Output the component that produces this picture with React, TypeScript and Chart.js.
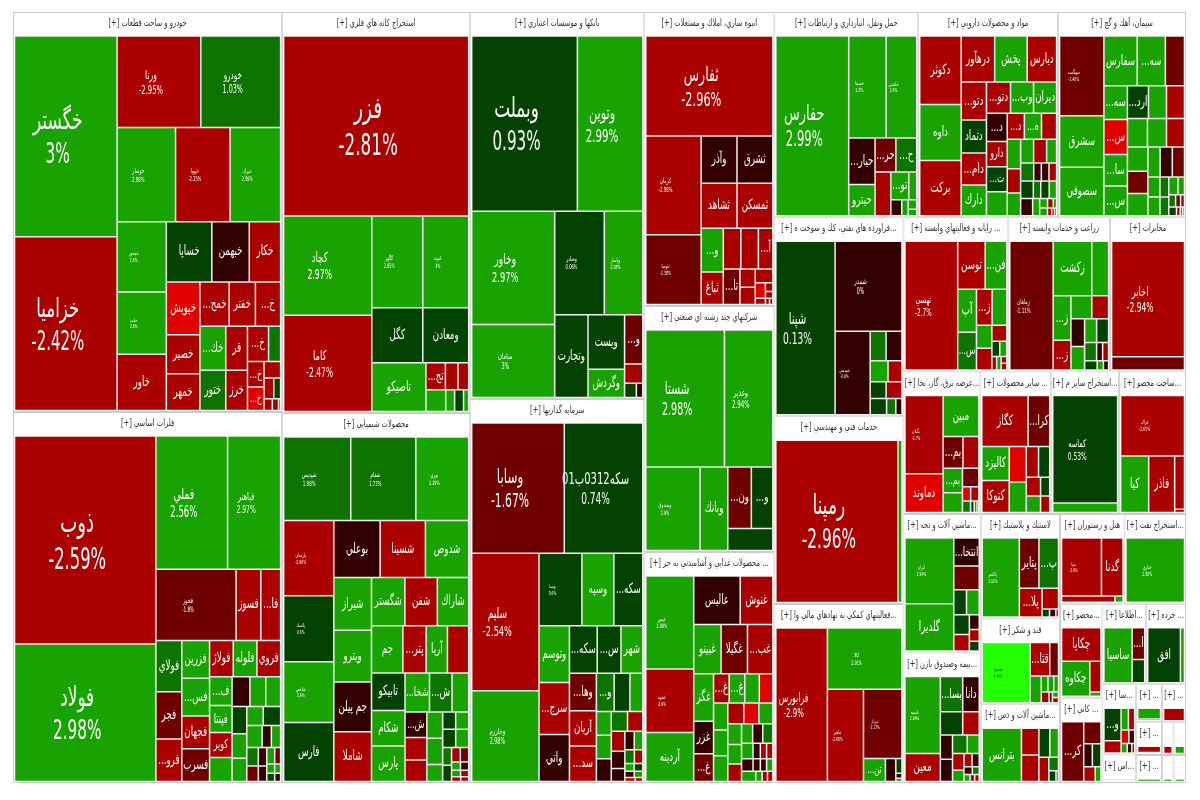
import React, { useEffect, useRef } from "react";
import { Chart, registerables, DatasetController } from "chart.js";

// ---- data: tile sizes (traded value), percent change, and strip plans
// plan: +n = n tiles side by side in a top strip, -n = n tiles stacked in a left strip
const sectorTitles = [
  "خودرو و ساخت قطعات [+]", "فلزات اساسي [+]", "استخراج كانه هاي فلزي [+]", "محصولات شيميايي [+]",
  "بانكها و موسسات اعتباري [+]", "سرمايه گذاريها [+]", "انبوه سازي، املاك و مستغلات [+]",
  "شركتهاي چند رشته اي صنعتي [+]", "... محصولات غذايي و آشاميدني به جز [+]",
  "حمل ونقل، انبارداري و ارتباطات [+]", "مواد و محصولات دارويي [+]", "سيمان، آهك و گچ [+]",
  "...فراورده هاي نفتي، كك و سوخت ه [+]", "خدمات فني و مهندسي [+]", "...فعاليتهاي كمكي به نهادهاي مالي وا [+]",
  "... رايانه و فعاليتهاي وابسته [+]", "زراعت و خدمات وابسته [+]", "مخابرات [+]",
  "...عرضه برق، گاز، بخا [+]", "... ساير محصولات [+]", "...استخراج ساير م [+]", "...ساخت محصو [+]",
  "...ماشين آلات و تجه [+]", "...بيمه وصندوق بازن [+]", "لاستيك و پلاستيك [+]", "قند و شكر [+]", "...ماشين آلات و دس [+]",
  "هتل و رستوران [+]", "...استخراج نفت [+]", "...محصو [+]", "... كاني [+]", "...اطلاعا [+]", "... خرده [+]",
  "...سا [+]", "...اس [+]", "... [+]", "... [+]", "... [+]", "... [+]", "", "", "", "",
];
const sectorValues = [
  107600, 99799, 75388, 69560, 67338, 66816, 38220, 31980, 30030, 29520, 28700, 26240, 25671, 24252, 23091,
  16170, 15708, 11704, 10934, 10082, 9656, 9514, 10703, 10087, 8295, 6794, 6241, 5785, 5518, 3990, 3612, 3520, 3200,
  2376, 957, 988, 912, 850, 725, 374, 408, 319, 348,
];
const sectorPlan = [-2, -2, -2, -3, 3, -3, 3, 4, -2, -3, 2, -2, 2, -2, 2, -2, 2, 2];

const autoNames = ["خگستر", "خزاميا", "ورنا", "خودرو", "خوسار", "خپويا", "خبرك", "خمحور", "خلنت", "خاور", "خساپا", "خبهمن", "خكار", "خپويش", "خصير", "خمهر", "خمح...", "خفتر", "خ...", "خك...", "ختور", "قر", "خرز", "خ...", "", "خ...", "خ..."];
const autoValues = [20300, 17574, 7565, 7209, 5428, 5060, 4692, 3408, 3024, 2736, 2700, 2220, 1860, 1750, 1287, 1221, 1276, 1144, 1100, 1125, 1025, 945, 860, 735, 420, 416, 384, 270, 200, 140, 96, 72, 24];
const autoChanges = [3, -2.42, -2.95, 1.03, 2.98, -2.25, 2.99, 2.6, 2.6, -2.5, 0.5, -0.3, -2.5, -3.5, -2.5, -2.5, -2.5, -2.5, -2.5, 2.5, 1.5, -2.5, -2.5, -2.5, 1.5, -2.5, -3.5, -2.5, -2.5, 0.5, -2.5, -2.5, -2.5];
const autoPlan = [-2, 2, 3, -3, 3, -3, 3, -2, -2, 2, -2, 1, 2, 3];

const metalNames = ["ذوب", "فولاد", "فملي", "فباهنر", "فخوز", "فسوز", "فا...", "فولاي", "فجر", "فرو...", "فزرين", "فس...", "فجهان", "فسرب", "فولاژ", "فلوله", "فروي", "ف...", "فپنتا", "كوير"];
const metalValues = [28773, 19043, 9344, 6912, 5589, 1725, 1380, 1300, 1200, 1075, 1026, 1026, 891, 891, 840, 840, 840, 638, 594, 550, 528, 522, 464, 435, 392, 350, 336, 306, 324, 330, 198, 198, 209, 176, 152, 128, 128, 96, 72, 54, 64, 48];
const metalChanges = [-2.59, 2.98, 2.56, 2.97, -1.8, -2.5, -2.5, 1.5, -1.5, -2.5, 2.5, 2.5, -2.5, -1.5, -2.5, 2.5, -2.5, 2.5, 2.5, -2.5, 2.5, -0.3, 2.5, 2.5, 0.5, 2.5, 2.5, 2.5, 0.5, 2.5, -0.3, 2.5, 1.5, -1.5, -0.3, -0.3, 2.5, -1.5, 2.5, 2.5, 0.5, -0.3];
const metalPlan = [-2, 2, 3, -3, -4, 3, -4, 3, -3, 2, 3, -2, -2, 2, 2, 2];

const mineNames = ["فزر", "كچاد", "كاما", "كگهر", "كبوت", "كگل", "ومعادن", "تاصيكو", "تج..."];
const mineValues = [32736, 8600, 8342, 4590, 4140, 2754, 2484, 2600, 520, 338, 286, 420, 189, 190, 110];
const mineChanges = [-2.81, 2.97, -2.47, 2.85, 3, 0.5, 0.5, 2.5, -2.5, -2.5, -2.5, 2.5, 2.5, 0.5, 2.5];
const minePlan = [1, -2, 2, 2, -1, 3, 4];

const chemNames = ["شپديس", "شفام", "نوري", "پارسان", "پلاسك", "شاخص", "فارس", "بوعلي", "شسينا", "شدوص", "شيراز", "ويترو", "جم پيلن", "شاملا", "شگستر", "شفن", "شاراك", "جم", "پتر...", "آريا", "", "تابيكو", "شكام", "پارس", "شخا...", "ش...", "", "ش..."];
const chemValues = [5280, 5120, 4160, 3552, 3120, 2880, 2784, 2484, 2430, 2322, 1872, 1836, 1764, 1764, 1518, 1472, 1426, 1395, 1035, 945, 945, 1184, 1120, 1120, 900, 828, 612, 525, 462, 441, 390, 390, 255, 210, 210, 224, 224, 150, 136, 120, 115, 70, 65, 55, 50, 40, 35];
const chemChanges = [1.98, 1.73, 2.29, -2.96, 0.6, 2.6, 0.5, -0.3, -2.5, 2.5, 2.5, 2.5, -0.3, -2.5, 2.5, -2.5, 2.5, 2.5, -2.5, 2.5, -2.5, 0.5, 2.5, 2.5, 2.5, 1.5, 2.5, -0.3, -2.5, -2.5, 2.5, 2.5, 2.5, 0.5, 2.5, 0.5, 2.5, 1.5, 0.5, -2.5, -1.5, 2.5, -0.3, 2.5, -2.5, -2.5, -2.5];
const chemPlan = [3, -4, 3, -4, 3, 4, -3, 3, -3, -3, 2, 2, -2, 2, 2, 2, 2];

const bankNames = ["وبملت", "وتوين", "وخاور", "سامان", "وصادر", "وپاسار", "وتجارت", "ويست", "وگردش", "و..."];
const bankValues = [18060, 11180, 9153, 5913, 5000, 3880, 2688, 1944, 1008, 874, 342, 165, 90];
const bankChanges = [0.93, 2.99, 2.97, 3, 0.06, 2.98, 0.5, 0.5, 2.5, -1.5, -2.5, 0.5, -0.3];
const bankPlan = [2, -2, 2, -1, -2, 1, 1, 2];

const investNames = ["وسابا", "سكه0312ب01", "سليم", "وخارزم", "وسنا", "وسپه", "سكه...", "وتوسم", "سرج...", "واتي", "سكه...", "س...", "شهر", "وها...", "آريان", "سد...", "و..."];
const investValues = [11500, 9750, 8832, 5824, 2967, 2208, 2001, 1653, 1508, 1363, 1260, 1080, 990, 962, 910, 910, 648, 576, 468, 336, 336, 322, 306, 288, 260, 221, 169, 165, 150, 125, 110, 70, 65, 55, 50, 40, 30];
const investChanges = [-1.67, 0.74, -2.54, 2.98, 0.6, 2.5, 0.5, 2.5, -2.5, -0.3, 0.5, 0.5, 2.5, -1.5, -2.5, -2.5, 1.5, 0.5, 2.5, 2.5, 2.5, -0.3, 1.5, -2.5, -2.5, -0.3, -0.3, -0.3, 2.5, 1.5, -2.5, 2.5, 0.5, -0.3, 2.5, -2.5, -2.5];
const investPlan = [2, -2, 3, -3, 3, -3, 3, -3, 2, -3, 2, 2, 2, 2, 2];

const buildNames = ["ثفارس", "كرمان", "ثنوسا", "وآذر", "ثشرق", "ثشاهد", "ثمسكن", "و...", "ثباغ", "", "", "آ...", "تا..."];
const buildValues = [12416, 5346, 3780, 1656, 1656, 1584, 1584, 946, 704, 697, 697, 574, 578, 273, 260, 238, 153, 63, 63, 50, 25, 20];
const buildChanges = [-2.96, -2.98, -1.38, -0.3, -0.3, -2.5, -2.5, 2.5, -2.5, -2.5, -2.5, -2.5, -1.5, -2.5, -2.5, -2.5, -3.5, -2.5, -2.5, -2.5, -2.5, -2.5];
const buildPlan = [1, -2, 2, 2, -2, 3, -1, -2, 1, -2, 1, 1, 2];

const multiNames = ["شستا", "وغدير", "وصندوق", "وبانك", "ون...", "و..."];
const multiValues = [10452, 6432, 4400, 2241, 1403, 1281, 966];
const multiChanges = [2.98, 2.94, 2.9, 2.5, -1.5, 0.5, 0.5];
const multiPlan = [2, -1, -1, 2, 1];

const foodNames = ["غپس", "غشهد", "آردينه", "عاليس", "غنوش", "غبينو", "غگيلا", "غب...", "غگز", "غزر", "غ...", "غ...", "غ..."];
const foodValues = [4095, 2790, 2160, 2068, 1452, 1242, 1196, 1150, 864, 594, 504, 420, 420, 392, 364, 351, 338, 338, 304, 285, 266, 260, 247, 221, 198, 180, 180, 165, 105, 90, 90, 132, 84, 72, 72, 132, 60, 50, 50];
const foodChanges = [2.98, -2.9, 2.5, -0.3, -2.5, 2.5, -1.5, -2.5, 2.5, -0.3, -1.5, -2.5, 2.5, 2.5, -3.5, 2.5, 2.5, 2.5, -2.5, -3.5, 2.5, 2.5, 2.5, -2.5, 2.5, -0.3, 1.5, 2.5, -0.3, -2.5, -2.5, -0.3, -0.3, -0.3, 2.5, 2.5, 2.5, -2.5, -2.5];
const foodPlan = [-3, 2, 3, -3, 4, -3, 3, -3, 3, 4, 4, 4];

const transportNames = ["حفارس", "حسينا", "حكشتي", "حيار...", "حيترو", "حر...", "ح...", "", "تو..."];
const transportValues = [12780, 3724, 3038, 1196, 806, 693, 693, 675, 486, 216, 170, 100, 80, 54];
const transportChanges = [2.99, 2.6, 2.6, -0.3, 2.5, -1.5, 1.5, -2.5, 2.5, 2.5, -0.3, 2.5, 2.5, 2.5];
const transportPlan = [-1, 2, -2, 2, -1, 2, -1, -1, 1, 1];

const pharmaNames = ["دكوثر", "داوه", "بركت", "درهآور", "پخش", "ديارس", "دتو...", "دتماد", "دام...", "دارك", "دتو...", "وب...", "ديران", "د...", "دارو", "ت...", "", "د...", "ه..."];
const pharmaValues = [2613, 2145, 2106, 1419, 1376, 1247, 888, 768, 744, 720, 696, 667, 667, 540, 480, 480, 460, 408, 408, 360, 364, 300, 280, 286, 286, 220, 216, 126, 126, 126, 204, 119, 136, 119, 192, 112, 70, 50, 30, 56, 30, 20, 15];
const pharmaChanges = [-2.5, 2.5, -2.5, -2.5, 2.5, -2.5, -2.5, 0.5, -2.5, 2.5, -2.5, 2.5, 2.5, -0.3, -2.5, 0.5, 2.5, -2.5, 2.5, -2.5, 2.5, -2.5, 2.5, 2.5, -2.5, 2.5, 1.5, -0.3, -0.3, -2.5, 0.5, 1.5, 0.5, 2.5, -0.3, 2.5, 2.5, -2.5, 2.5, 2.5, -2.5, -2.5, -2.5];
const pharmaPlan = [-3, 3, -4, 3, -4, 3, -3, 3, 4, 4, -1, -1, 3, 4];

const cementNames = ["سهگمت", "سشرق", "سصوفي", "سفارس", "سه...", "", "سه...", "س...", "سا...", "س...", "ارد..."];
const cementValues = [3239, 2091, 1968, 1518, 1288, 874, 726, 748, 682, 638, 630, 540, 540, 520, 494, 468, 456, 418, 418, 336, 336, 336, 220, 209, 160, 150, 150, 105, 77, 55, 44, 63, 30, 20, 15];
const cementChanges = [-1.48, 2.5, 2.5, 2.5, 2.5, -1.5, 2.5, -3.5, 2.5, 2.5, 0.5, 2.5, -2.5, 2.5, 2.5, -2.5, 2.5, -1.5, 2.5, 2.5, -0.3, -1.5, 2.5, 2.5, 1.5, 1.5, 2.5, 2.5, 1.5, -1.5, -2.5, 0.5, -2.5, 2.5, 0.5];
const cementPlan = [-3, 3, -4, 3, 3, -3, 3, -2, -2, 2, 3, 4];

const oilNames = ["شپنا", "شبندر", "شپديس"];
const oilValues = [9861, 5780, 2805, 448, 448, 360, 280, 256, 256, 256, 144, 96];
const oilChanges = [0.13, 0, -0.8, 1.5, -0.3, 2.5, -2.5, 0.5, -2.5, 0.5, 1.5, -0.3];
const oilPlan = [-1, 1, -1, 2, 2, 2, 3];

const engNames = ["رمپنا"];
const engValues = [19886, 650];
const engChanges = [-2.96, 2.5];
const engPlan = [-1, -1];

const financeNames = ["فرابورس", "كالا", "ماهير", "تپرداز", "تن..."];
const financeValues = [7750, 4466, 3264, 2613, 494, 234, 88, 30, 20];
const financeChanges = [-2.9, 2.91, -2.88, -1.17, 2.5, -0.3, 0.5, -0.3, 2.5];
const financePlan = [-1, 1, -1, 1, -1, -1, 1, 1, 1];

const itNames = ["تهسي", "توسن", "فن...", "آپ", "س...", "ز..."];
const itValues = [6350, 1232, 968, 756, 666, 528, 495, 330, 315, 224, 112, 100, 60, 56, 36, 36];
const itChanges = [-2.7, -2.5, 2.5, 2.5, 1.5, -2.5, 2.5, 2.5, -2.5, -2.5, 0.5, 2.5, -2.5, 2.5, -2.5, -2.5];
const itPlan = [-1, 2, -2, 2, -2, 1, 2, -1, -1, 1, 1];

const farmNames = ["زماهان", "زكشت", "", "ز...", "ز..."];
const farmValues = [5166, 1950, 850, 731, 493, 441, 357, 351, 299, 264, 264, 204, 102, 102, 108, 54, 45];
const farmChanges = [-1.11, 2.5, 2.5, 2.5, -2.5, 2.5, -2.5, -0.3, 2.5, 2.5, 0.5, 1.5, -0.3, -2.5, 0.5, 2.5, -0.3];
const farmPlan = [-1, 2, -2, 2, -2, 2, 3, 3];

const telecomNames = ["اخابر"];
const telecomValues = [8176, 949];
const telecomChanges = [-2.94, -1.5];
const telecomPlan = [1, 1];

const powerNames = ["بگيلان", "دماوند", "مبين", "بم...", "", "بم..."];
const powerValues = [2849, 1406, 1400, 600, 480, 456, 361, 289, 112, 112, 88, 40, 30, 20];
const powerChanges = [-2.7, -3.5, 2.5, -1.5, -2.5, 2.5, 2.5, -1.5, -3.5, -2.5, 1.5, 0.5, 2.5, -3.5];
const powerPlan = [-2, 1, 2, -2, 1, 2, 4];

const otherNames = ["كگاز", "كرا...", "كاليزد", "كتوكا"];
const otherValues = [2115, 987, 832, 780, 544, 464, 336, 308, 238, 153, 210, 135];
const otherChanges = [-2.5, -1.5, 2.5, -2.5, -3.5, 2.5, -2.5, 0.5, -2.5, 0.5, 2.5, -2.5];
const otherPlan = [2, -2, -2, 2, 2, 2];

const otherMineNames = ["كماسه"];
const otherMineValues = [6695, 585];
const otherMineChanges = [0.53, 2.5];
const otherMinePlan = [1, 1];

const fabNames = ["فزاك", "كيا", "فاذر"];
const fabValues = [3770, 1539, 1425, 510, 30];
const fabChanges = [-2.65, 2.5, -2.5, -2.5, -2.5];
const fabPlan = [1, -1, -1, 1, 1];

const machineNames = ["ايران", "گلديرا", "انتخا..."];
const machineValues = [3008, 2162, 675, 567, 299, 299, 288, 240, 135, 110, 90];
const machineChanges = [2.94, 2.5, -0.3, -1.5, 0.5, 2.5, 0.5, -2.5, -0.3, -2.5, 0.5];
const machinePlan = [-2, 1, 1, 2, -2, 1, 1, 1];

const insureNames = ["باسمه", "معين", "بسا...", "دانا"];
const insureValues = [2541, 924, 736, 544, 483, 357, 275, 253, 256, 208, 180, 120, 99, 88, 60, 50, 40, 30, 30];
const insureChanges = [2.98, -2.5, 1.5, -0.3, 0.5, -2.5, -0.3, -0.3, 1.5, 2.5, -2.5, 2.5, -2.5, -0.3, -0.3, 1.5, 2.5, -2.5, -2.5];
const insurePlan = [-2, 2, 2, -2, 2, -2, 2, 2, 3];

const rubberNames = ["پاكشو", "پتاير", "پ...", "پلا..."];
const rubberValues = [2765, 931, 931, 616, 320, 56, 48, 20];
const rubberChanges = [3.02, -1.5, 1.5, -2.5, -2.5, 0.5, -0.3, -1.5];
const rubberPlan = [-1, 2, -1, 1, 3];

const sugarNames = ["قصفها", "قثا..."];
const sugarValues = [2640, 600, 270, 270, 98, 84, 70, 77, 33, 30, 30];
const sugarChanges = [4.45, -2.5, -1.5, 2.5, 2.5, 2.5, 2.5, -2.5, -1.5, 2.5, -2.5];
const sugarPlan = [-1, 2, -1, 3, -1, -1, 1, 1];

const deviceNames = ["بترانس"];
const deviceValues = [1908, 425, 425, 290, 232, 220, 120, 70, 25];
const deviceChanges = [2.5, -2.5, -2.5, 0.5, 2.5, -2.5, 1.5, 0.5, 2.5];
const devicePlan = [-1, -2, 2, -1, 1, 2];

const hotelNames = ["سپا", "گدنا"];
const hotelValues = [2280, 1232, 318, 48];
const hotelChanges = [-2.8, -2.5, -2.5, 2.5];
const hotelPlan = [2, 2];

const crudeNames = ["حتاري"];
const crudeValues = [3780];
const crudeChanges = [2.98];
const crudePlan = [1];

const dairyNames = ["چكاپا", "چكاوه"];
const dairyValues = [1312, 980, 336, 48];
const dairyChanges = [-2.5, 2.5, -2.5, 2.5];
const dairyPlan = [1, -1, 1, 1];

const mineralNames = ["كر..."];
const mineralValues = [1320, 378, 198, 198, 168, 84];
const mineralChanges = [-1.5, -1.5, -0.3, 0.5, -2.5, 2.5];
const mineralPlan = [-1, 1, 2, 2];

const infoNames = ["ساسيا", "ا..."];
const infoValues = [1456, 377, 273];
const infoChanges = [2.5, -1.5, 0.5];
const infoPlan = [-1, 1, 1];

const retailNames = ["افق"];
const retailValues = [1664, 208];
const retailChanges = [0.5, 2.5];
const retailPlan = [-1, -1];

const tinyANames = ["و..."];
const tinyAValues = [512, 192, 147, 126, 96, 72, 54, 40, 25];
const tinyAChanges = [0.5, -2.5, 2.5, -2.5, -3.5, -0.3, 2.5, -0.3, -2.5];
const tinyAPlan = [-2, 2, 2, 3];

const tinyValues = [[50, 25, 25], [222, 37], [276], [90, 15], [115], [110], [110], [60], [60]];
const tinyChanges = [[-2.5, -1.5, -1.5], [2.5, -2.5], [-2.5], [-2.5, 2.5], [2.5], [-2.5], [2.5], [2.5], [2.5]];

// ---- assembling (sector order follows sectorTitles)
const tableNames = [autoNames, metalNames, mineNames, chemNames, bankNames, investNames, buildNames, multiNames, foodNames, transportNames, pharmaNames, cementNames, oilNames, engNames, financeNames, itNames, farmNames, telecomNames, powerNames, otherNames, otherMineNames, fabNames, machineNames, insureNames, rubberNames, sugarNames, deviceNames, hotelNames, crudeNames, dairyNames, mineralNames, infoNames, retailNames, tinyANames];
const tableValues = [autoValues, metalValues, mineValues, chemValues, bankValues, investValues, buildValues, multiValues, foodValues, transportValues, pharmaValues, cementValues, oilValues, engValues, financeValues, itValues, farmValues, telecomValues, powerValues, otherValues, otherMineValues, fabValues, machineValues, insureValues, rubberValues, sugarValues, deviceValues, hotelValues, crudeValues, dairyValues, mineralValues, infoValues, retailValues, tinyAValues];
const tableChanges = [autoChanges, metalChanges, mineChanges, chemChanges, bankChanges, investChanges, buildChanges, multiChanges, foodChanges, transportChanges, pharmaChanges, cementChanges, oilChanges, engChanges, financeChanges, itChanges, farmChanges, telecomChanges, powerChanges, otherChanges, otherMineChanges, fabChanges, machineChanges, insureChanges, rubberChanges, sugarChanges, deviceChanges, hotelChanges, crudeChanges, dairyChanges, mineralChanges, infoChanges, retailChanges, tinyAChanges];
const tablePlans = [autoPlan, metalPlan, minePlan, chemPlan, bankPlan, investPlan, buildPlan, multiPlan, foodPlan, transportPlan, pharmaPlan, cementPlan, oilPlan, engPlan, financePlan, itPlan, farmPlan, telecomPlan, powerPlan, otherPlan, otherMinePlan, fabPlan, machinePlan, insurePlan, rubberPlan, sugarPlan, devicePlan, hotelPlan, crudePlan, dairyPlan, mineralPlan, infoPlan, retailPlan, tinyAPlan];
const tableLabelled = [9, 5, 5, 6, 6, 5, 3, 3, 2, 3, 0, 1, 3, 1, 4, 1, 1, 1, 1, 0, 1, 1, 1, 1, 1, 1, 0, 1, 1, 0, 0, 0, 0, 0];

const DOMAIN_W = 1173;
const DOMAIN_H = 771;
const HEADER = 24;
const INSET = 1.5;

type Box = { x0: number; y0: number; x1: number; y1: number };

// Strip layout: every strip takes its share of the remaining box from the values.
function stripLayout(values: number[], plan: number[], box: Box): Box[] {
  const out: Box[] = [];
  let { x0, y0, x1, y1 } = box;
  let left = values.reduce((a, b) => a + b, 0);
  let i = 0;
  let p = 0;
  while (i < values.length) {
    const step = p < plan.length ? plan[p++] : x1 - x0 < y1 - y0 ? values.length - i : -(values.length - i);
    const n = Math.min(Math.abs(step), values.length - i);
    const part = values.slice(i, i + n);
    const sum = part.reduce((a, b) => a + b, 0);
    const share = left > 0 ? sum / left : 1;
    if (step > 0) {
      const yEnd = y0 + (y1 - y0) * share;
      let x = x0;
      part.forEach((v) => {
        const w = ((x1 - x0) * v) / sum;
        out.push({ x0: x, y0, x1: x + w, y1: yEnd });
        x += w;
      });
      y0 = yEnd;
    } else {
      const xEnd = x0 + (x1 - x0) * share;
      let y = y0;
      part.forEach((v) => {
        const h = ((y1 - y0) * v) / sum;
        out.push({ x0, y0: y, x1: xEnd, y1: y + h });
        y += h;
      });
      x0 = xEnd;
    }
    left -= sum;
    i += n;
  }
  return out;
}

function toneFor(c: number): string {
  if (c >= 4) return "#22ff00";
  if (c >= 2) return "#18a300";
  if (c >= 1) return "#0e7400";
  if (c >= 0.05) return "#034200";
  if (c > -1) return "#330000";
  if (c > -2) return "#6e0000";
  if (c > -3.1) return "#aa0000";
  return "#e00000";
}

type Cell = Box & { name: string; change: number; showPct: boolean; title?: string };

const sectorBoxes = stripLayout(sectorValues, sectorPlan, { x0: 0, y0: 0, x1: DOMAIN_W, y1: DOMAIN_H });
const sectorCells: Cell[] = sectorBoxes.map((b, i) => ({ ...b, name: "", change: 0, showPct: false, title: sectorTitles[i] }));
const tileCells: Cell[] = [];
sectorBoxes.forEach((b, i) => {
  const body: Box = { x0: b.x0 + INSET, y0: b.y0 + HEADER, x1: b.x1 - INSET, y1: b.y1 - INSET };
  const isTiny = i >= tableValues.length;
  const values = isTiny ? tinyValues[i - tableValues.length] : tableValues[i];
  const changes = isTiny ? tinyChanges[i - tableValues.length] : tableChanges[i];
  const names = isTiny ? [] : tableNames[i];
  const plan = isTiny ? [] : tablePlans[i];
  const labelled = isTiny ? 0 : tableLabelled[i];
  stripLayout(values, plan, body).forEach((t, k) => {
    tileCells.push({ ...t, name: names[k] ?? "", change: changes[k] ?? 2.5, showPct: k < labelled });
  });
});

// ---- Chart.js treemap controller built on the library's bar element and linear scales
class TreemapController extends (DatasetController as any) {
  static id = "treemap";
  static defaults = { dataElementType: "bar", datasetElementType: false };
  update() {
    const meta = (this as any).getMeta();
    const ds = (this as any).getDataset();
    const { xScale, yScale } = meta;
    meta.data.forEach((el: any, i: number) => {
      const c: Cell = ds.data[i];
      const l = xScale.getPixelForValue(c.x0);
      const r = xScale.getPixelForValue(c.x1);
      const t = yScale.getPixelForValue(c.y0);
      const b = yScale.getPixelForValue(c.y1);
      Object.assign(el, {
        x: (l + r) / 2,
        y: t,
        base: b,
        width: r - l,
        height: b - t,
        horizontal: false,
        inflateAmount: 0,
        borderSkipped: { top: false, bottom: false, left: false, right: false },
        enableBorderRadius: false,
        options: {
          backgroundColor: ds.fillFor(c),
          borderColor: ds.edgeColor,
          borderWidth: ds.edgeWidth,
          borderRadius: 0,
        },
      });
    });
  }
}

const FONT = '"DejaVu Sans"';
const NAME_SQUEEZE = 0.62;
const PCT_SQUEEZE = 0.56;
const HEADER_SQUEEZE = 0.67;
const PCT_SHIFT = -8;

function squeezedText(ctx: CanvasRenderingContext2D, text: string, cx: number, cy: number, size: number, color: string, dir: "rtl" | "ltr", squeeze: number) {
  ctx.save();
  ctx.translate(cx, cy);
  ctx.scale(squeeze, 1);
  ctx.direction = dir;
  ctx.font = `${size}px ${FONT}`;
  ctx.textAlign = "center";
  ctx.textBaseline = "middle";
  ctx.fillStyle = color;
  ctx.fillText(text, 0, 0);
  ctx.restore();
}

const fontStops = [[2500, 5], [4500, 6], [5500, 7], [7500, 12], [9500, 15], [12500, 20], [18000, 27], [33000, 30]];
function pctFont(area: number): number {
  if (area <= fontStops[0][0]) return fontStops[0][1];
  for (let i = 1; i < fontStops.length; i++) {
    const [a1, f1] = fontStops[i];
    const [a0, f0] = fontStops[i - 1];
    if (area <= a1) return f0 + ((f1 - f0) * (area - a0)) / (a1 - a0);
  }
  return fontStops[fontStops.length - 1][1];
}

const labelsPlugin = {
  id: "treemapLabels",
  afterDatasetsDraw(chart: any) {
    const ctx: CanvasRenderingContext2D = chart.ctx;
    const x = chart.scales.x;
    const y = chart.scales.y;
    sectorCells.forEach((c) => {
      if (!c.title) return;
      const cx = (x.getPixelForValue(c.x0) + x.getPixelForValue(c.x1)) / 2;
      const cy = y.getPixelForValue(c.y0) + 11.5;
      squeezedText(ctx, c.title, cx, cy, 10, "#333333", "rtl", HEADER_SQUEEZE);
    });
    tileCells.forEach((c) => {
      if (!c.name) return;
      const l = x.getPixelForValue(c.x0);
      const r = x.getPixelForValue(c.x1);
      const t = y.getPixelForValue(c.y0);
      const b = y.getPixelForValue(c.y1);
      const w = r - l;
      const h = b - t;
      const cx = (l + r) / 2;
      const cy = (t + b) / 2;
      const ink = c.change >= 4 ? "#0d6b00" : "#ffffff";
      if (c.showPct) {
        const size = pctFont(w * h);
        const gap = size * 0.62;
        const drop = size * 0.1;
        squeezedText(ctx, c.name, cx + PCT_SHIFT, cy - gap + drop, size, ink, "rtl", NAME_SQUEEZE);
        squeezedText(ctx, `${c.change}%`, cx + PCT_SHIFT, cy + gap + drop, size, ink, "ltr", PCT_SQUEEZE);
      } else {
        ctx.font = `10px ${FONT}`;
        ctx.direction = "rtl";
        const unit = ctx.measureText(c.name).width / 10;
        const size = Math.min(14, h * 0.5, (w - 2) / (unit * NAME_SQUEEZE));
        if (size >= 4) squeezedText(ctx, c.name, cx, cy, size, ink, "rtl", NAME_SQUEEZE);
      }
    });
  },
};

Chart.register(...registerables, TreemapController as any);

export default function App() {
  const ref = useRef<HTMLCanvasElement | null>(null);
  useEffect(() => {
    if (!ref.current) return;
    const chart = new Chart(ref.current, {
      type: "treemap" as any,
      data: {
        datasets: [
          { data: tileCells, parsing: false, fillFor: (c: Cell) => toneFor(c.change), edgeColor: "#e8e8e8", edgeWidth: 0.75 } as any,
          { data: sectorCells, parsing: false, fillFor: () => "#ffffff", edgeColor: "#cccccc", edgeWidth: 1 } as any,
        ],
      },
      options: {
        animation: false,
        responsive: false,
        devicePixelRatio: 1,
        events: [],
        layout: { padding: { left: 13, top: 12, right: 14, bottom: 17 } },
        plugins: { legend: { display: false }, tooltip: { enabled: false }, title: { display: false } },
        scales: {
          x: { type: "linear", min: 0, max: DOMAIN_W, display: false },
          y: { type: "linear", min: 0, max: DOMAIN_H, reverse: true, display: false },
        },
      } as any,
      plugins: [labelsPlugin as any],
    });
    return () => chart.destroy();
  }, []);
  return (
    <div style={{ position: "absolute", left: 0, top: 0, width: 1200, height: 800, background: "#fff" }}>
      <canvas ref={ref} width={1200} height={800} style={{ display: "block" }} />
    </div>
  );
}
